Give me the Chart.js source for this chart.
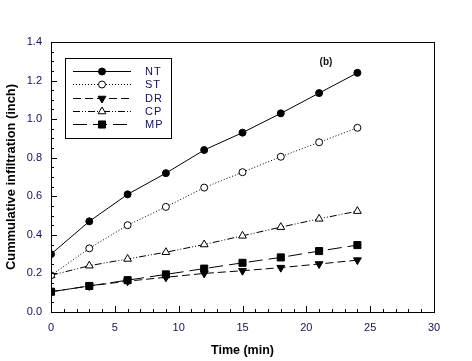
<!DOCTYPE html>
<html>
<head>
<meta charset="utf-8">
<script src="https://cdn.jsdelivr.net/npm/chart.js@4/dist/chart.umd.min.js"></script>
<style>
html,body{margin:0;padding:0;background:#fff;}
#wrap{width:472px;height:361px;position:relative;}
</style>
</head>
<body>
<div id="wrap"><canvas id="c" width="472" height="361"></canvas></div>
<script>
const timeMin = [0, 3, 6, 9, 12, 15, 18, 21, 24];
const seriesNames = ['NT', 'ST', 'DR', 'CP', 'MP'];
const valuesNT = [0.30, 0.47, 0.61, 0.72, 0.84, 0.93, 1.03, 1.135, 1.24];
const valuesST = [0.19, 0.33, 0.45, 0.545, 0.645, 0.725, 0.805, 0.88, 0.955];
const valuesDR = [0.105, 0.135, 0.16, 0.18, 0.20, 0.214, 0.23, 0.249, 0.269];
const valuesCP = [0.19, 0.24, 0.275, 0.31, 0.35, 0.395, 0.44, 0.483, 0.523];
const valuesMP = [0.105, 0.135, 0.165, 0.195, 0.225, 0.255, 0.283, 0.316, 0.347];
const xTicks = [0, 5, 10, 15, 20, 25, 30];
const yTicks = [0.0, 0.2, 0.4, 0.6, 0.8, 1.0, 1.2, 1.4];
const panelLabel = '(b)';
const xTitle = 'Time (min)';
const yTitle = 'Cummulative infiltration (inch)';

const FONT = "'Liberation Sans', Arial, sans-serif";
const TICK_COLOR = '#10105a';

function pts(vals) { return timeMin.map((t, i) => ({x: t, y: vals[i]})); }

const styles = {
  NT: {dash: [], pointStyle: 'circle', r: 3.5, fill: '#000', rot: 0},
  ST: {dash: [1, 2], pointStyle: 'circle', r: 3.5, fill: '#fff', rot: 0},
  DR: {dash: [8, 4], pointStyle: 'triangle', r: 4.5, fill: '#000', rot: 180},
  CP: {dash: [7, 2, 1, 2, 1, 2], pointStyle: 'triangle', r: 4.5, fill: '#fff', rot: 0},
  MP: {dash: [14, 6], pointStyle: 'rect', r: 5, fill: '#000', rot: 0}
};
const valueMap = {NT: valuesNT, ST: valuesST, DR: valuesDR, CP: valuesCP, MP: valuesMP};

const datasets = seriesNames.map(n => ({
  label: n,
  data: pts(valueMap[n]),
  borderColor: '#000',
  borderWidth: 1,
  borderDash: styles[n].dash,
  pointStyle: styles[n].pointStyle,
  pointRadius: styles[n].r,
  pointRotation: styles[n].rot,
  pointBackgroundColor: styles[n].fill,
  pointBorderColor: '#000',
  pointBorderWidth: 1,
  tension: 0,
  fill: false
}));

const framePlugin = {
  id: 'frame',
  afterDraw(chart) {
    const ctx = chart.ctx;
    const a = chart.chartArea;
    const xs = chart.scales.x, ys = chart.scales.y;
    ctx.save();
    ctx.strokeStyle = '#000';
    ctx.lineWidth = 1;
    ctx.setLineDash([]);
    ctx.strokeRect(Math.round(a.left) + 0.5, Math.round(a.top) + 0.5,
                   Math.round(a.right - a.left), Math.round(a.bottom - a.top));
    // x ticks (inward)
    for (let v = 0; v <= 30; v += 1) {
      const px = Math.round(xs.getPixelForValue(v)) + 0.5;
      const len = (v % 5 === 0) ? 6 : 3;
      ctx.beginPath();
      ctx.moveTo(px, a.bottom);
      ctx.lineTo(px, a.bottom - len);
      ctx.stroke();
    }
    // y ticks (inward)
    for (let k = 0; k <= 28; k++) {
      const v = k * 0.05;
      const py = Math.round(ys.getPixelForValue(v)) + 0.5;
      const len = (k % 4 === 0) ? 6 : 3;
      ctx.beginPath();
      ctx.moveTo(a.left, py);
      ctx.lineTo(a.left + len, py);
      ctx.stroke();
    }
    // y axis title (condensed, vertical)
    ctx.save();
    ctx.fillStyle = '#000';
    ctx.font = 'bold 13px ' + FONT;
    const w = ctx.measureText(yTitle).width;
    const target = 186;
    ctx.translate(11, (a.top + a.bottom) / 2);
    ctx.rotate(-Math.PI / 2);
    ctx.scale(target / w, 1);
    ctx.textAlign = 'center';
    ctx.textBaseline = 'middle';
    ctx.fillText(yTitle, 0, 0);
    ctx.restore();

    // panel label
    ctx.fillStyle = '#111';
    ctx.font = 'bold 10px ' + FONT;
    ctx.textAlign = 'center';
    ctx.textBaseline = 'middle';
    ctx.fillText(panelLabel, 326, 62);

    // legend box
    const bx = 65.5, by = 58.5, bw = 106, bh = 80;
    ctx.strokeRect(bx, by, bw, bh);
    const rows = [71, 84, 98, 111, 124];
    chart.data.datasets.forEach((ds, i) => {
      const y = rows[i] + 0.5;
      ctx.save();
      ctx.setLineDash(ds.borderDash);
      ctx.lineWidth = 1;
      ctx.strokeStyle = '#000';
      ctx.beginPath();
      ctx.moveTo(73, y);
      ctx.lineTo(131, y);
      ctx.stroke();
      ctx.setLineDash([]);
      ctx.fillStyle = ds.pointBackgroundColor;
      ctx.strokeStyle = '#000';
      Chart.helpers.drawPoint(ctx, {
        pointStyle: ds.pointStyle,
        rotation: ds.pointRotation,
        radius: ds.pointRadius,
        borderWidth: 1
      }, 102, y);
      ctx.restore();
      ctx.save();
      ctx.fillStyle = TICK_COLOR;
      ctx.font = '11px ' + FONT;
      ctx.textAlign = 'left';
      ctx.textBaseline = 'middle';
      ctx.letterSpacing = '1px';
      ctx.fillText(ds.label, 145, y);
      ctx.restore();
    });
    ctx.restore();
  }
};

new Chart(document.getElementById('c'), {
  type: 'line',
  data: {datasets},
  options: {
    responsive: false,
    animation: false,
    devicePixelRatio: 1,
    layout: {padding: {left: 0, right: 38, top: 42, bottom: 0}},
    plugins: {legend: {display: false}, tooltip: {enabled: false}},
    scales: {
      x: {
        type: 'linear', min: 0, max: 30,
        afterFit(s) { s.height = 49; },
        afterBuildTicks(s) { s.ticks = xTicks.map(v => ({value: v})); },
        grid: {display: false, drawTicks: false},
        border: {display: false},
        ticks: {color: TICK_COLOR, font: {family: FONT, size: 11}, padding: 9, maxRotation: 0,
                callback: v => String(v)},
        title: {display: true, text: xTitle, color: '#000',
                font: {family: FONT, size: 12.5, weight: 'bold'}, padding: {top: 0, bottom: 3}}
      },
      y: {
        type: 'linear', min: 0, max: 1.4,
        afterFit(s) { s.width = 51; },
        afterBuildTicks(s) { s.ticks = yTicks.map(v => ({value: v})); },
        grid: {display: false, drawTicks: false},
        border: {display: false},
        ticks: {color: TICK_COLOR, font: {family: FONT, size: 11}, padding: 9,
                callback: v => Number(v).toFixed(1)}
      }
    }
  },
  plugins: [framePlugin]
});
</script>
</body>
</html>
